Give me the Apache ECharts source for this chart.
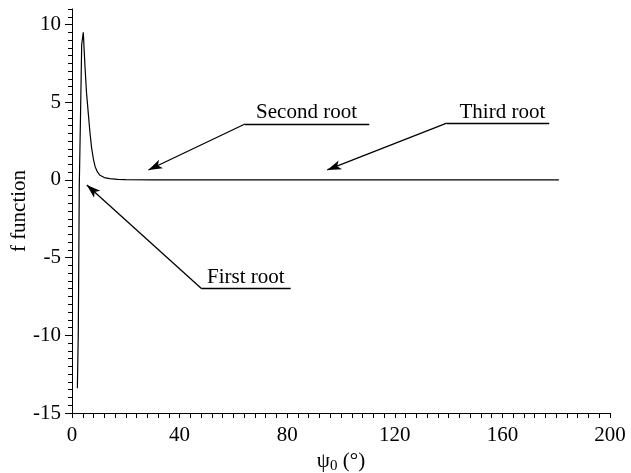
<!DOCTYPE html>
<html>
<head>
<meta charset="utf-8">
<script src="https://cdn.jsdelivr.net/npm/echarts@6/dist/echarts.min.js"></script>
<style>html,body{margin:0;padding:0;background:#fff;}#c{width:631px;height:473px;}</style>
</head>
<body>
<div id="c"></div>
<script>
// Curve values (psi0 in degrees, f function)
const psi = [2.0, 2.35, 2.7, 3.2, 3.6, 4.2, 4.8, 5.4, 6.1, 6.7, 7.3, 8.0, 8.6, 9.5, 10.4, 12, 14, 17, 20, 30, 60, 100, 140, 181];
const fval = [-13.4, -9.7, -0.5, 4.5, 8.7, 9.5, 7.4, 5.6, 4.2, 3.0, 2.05, 1.3, 0.85, 0.5, 0.3, 0.15, 0.08, 0.04, 0.02, 0, 0, 0, 0, 0];
const xTickLabels = [0, 40, 80, 120, 160, 200];
const yTickLabels = [-15, -10, -5, 0, 5, 10];
// Annotations: label, label anchor, underline start/end, arrow tip
const annLabels = ['Second root', 'Third root', 'First root'];
const annText = [[87.2, 4.35], [160.0, 4.35], [64.6, -6.3]];
const annLineA = [[64.3, 3.6], [139.3, 3.65], [48.2, -7.0]];
const annLineB = [[110.5, 3.6], [177.4, 3.65], [81.3, -7.0]];
const annTip = [[28.4, 0.64], [94.9, 0.64], [5.5, -0.32]];

const font = 'Liberation Serif';
const fs = 21;
const chart = echarts.init(document.getElementById('c'));

const markLines = [];
for (let i = 0; i < annLabels.length; i++) {
  markLines.push([{coord: annLineB[i], symbol: 'none'}, {coord: annLineA[i], symbol: 'none'}]);
  markLines.push([{coord: annLineA[i], symbol: 'none'}, {coord: annTip[i], symbol: 'arrow', symbolSize: [7, 14]}]);
}
const markPoints = annLabels.map((t, i) => ({
  coord: annText[i], name: t, symbol: 'rect', symbolSize: 0,
  label: {show: true, position: 'inside', formatter: t, color: '#000', fontFamily: font, fontSize: fs}
}));

chart.setOption({
  backgroundColor: '#fff',
  animation: false,
  grid: {left: 72, right: 21, top: 9, bottom: 60, outerBoundsMode: 'none', containLabel: false},
  xAxis: {
    type: 'value', min: 0, max: 200, interval: 4,
    axisLine: {onZero: false, lineStyle: {color: '#000', width: 1}},
    axisTick: {show: true, inside: false, length: 5, lineStyle: {color: '#000'}},
    splitLine: {show: false},
    axisLabel: {
      color: '#000', fontFamily: font, fontSize: fs, margin: 12,
      formatter: v => (xTickLabels.indexOf(v) >= 0 ? String(v) : '')
    },
    name: '{n|ψ}{s|0}{n| (°)}', nameLocation: 'middle', nameGap: 36,
    nameTextStyle: {
      rich: {
        n: {fontFamily: font, fontSize: fs, color: '#000'},
        s: {fontFamily: font, fontSize: 15, color: '#000', padding: [9, 0, 0, 0]}
      }
    }
  },
  yAxis: [{
    type: 'value', min: -15, max: 11, interval: 0.5, position: 'left',
    axisLine: {show: true, onZero: false, lineStyle: {color: '#000', width: 1}},
    axisTick: {show: true, inside: false, length: 4, lineStyle: {color: '#000'}},
    splitLine: {show: false},
    axisLabel: {show: false},
    name: 'f function', nameLocation: 'middle', nameGap: 42, nameRotate: 90,
    nameTextStyle: {fontFamily: font, fontSize: fs, color: '#000'}
  }, {
    type: 'value', min: -15, max: 11, position: 'left',
    axisLine: {show: false, onZero: false},
    axisTick: {show: true, inside: false, length: 7, customValues: yTickLabels, lineStyle: {color: '#000'}},
    splitLine: {show: false},
    axisLabel: {color: '#000', fontFamily: font, fontSize: fs, margin: 11, customValues: yTickLabels}
  }],
  series: [{
    type: 'line',
    data: psi.map((x, i) => [x, fval[i]]),
    symbol: 'none',
    lineStyle: {color: '#000', width: 1.2},
    markLine: {
      silent: true, animation: false,
      label: {show: false},
      lineStyle: {color: '#000', width: 1.3, type: 'solid'},
      data: markLines
    },
    markPoint: {silent: true, animation: false, data: markPoints}
  }]
});
</script>
</body>
</html>
